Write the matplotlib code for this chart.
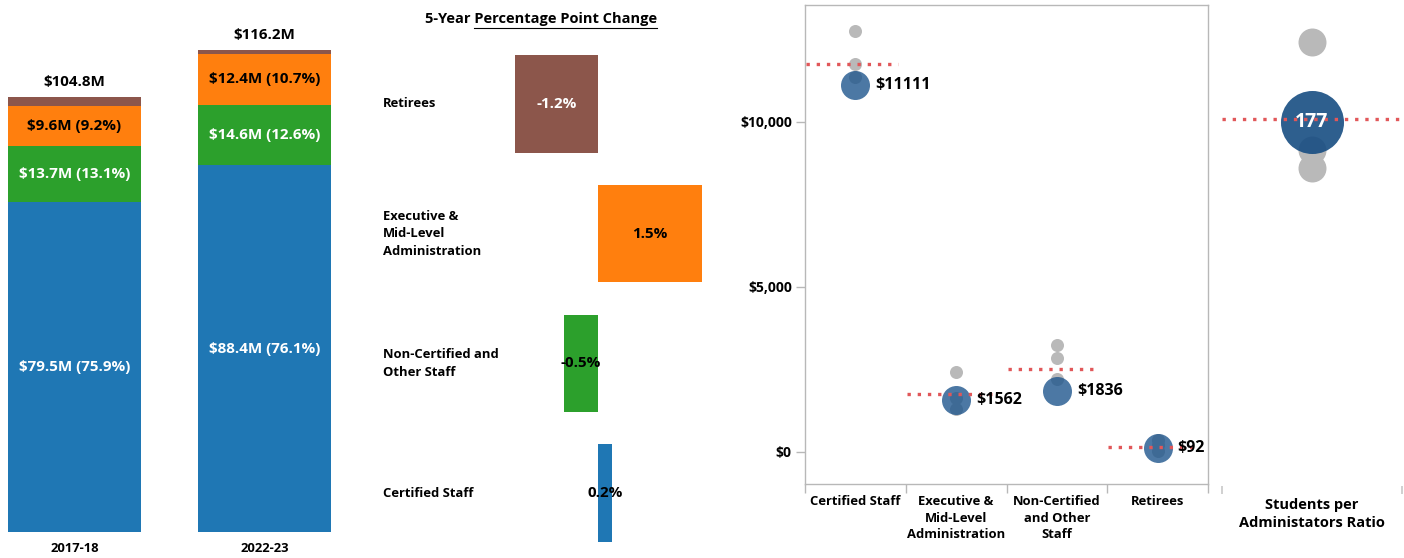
import matplotlib
matplotlib.use('Agg')
import matplotlib.pyplot as plt

plt.rcParams['font.family'] = ['Open Sans', 'DejaVu Sans']
plt.rcParams['font.weight'] = 'bold'

W, H, DPI = 1404, 558, 100

# ---------------- data ----------------
years = ['2017-18', '2022-23']
certified_m = [79.5, 88.4]
noncert_m = [13.7, 14.6]
exec_m = [9.6, 12.4]
retirees_m = [2.0, 0.8]
certified_pct = [75.9, 76.1]
noncert_pct = [13.1, 12.6]
exec_pct = [9.2, 10.7]
totals_m = [104.8, 116.2]

change_labels = ['Retirees', 'Executive &\nMid-Level\nAdministration',
                 'Non-Certified and\nOther Staff', 'Certified Staff']
change_pp = [-1.2, 1.5, -0.5, 0.2]

dot_categories = ['Certified Staff', 'Executive &\nMid-Level\nAdministration',
                  'Non-Certified\nand Other\nStaff', 'Retirees']
district_per_student = [11111, 1562, 1836, 92]
peer_per_student = [[12743, 11760, 11364],
                    [2402, 1622, 1287],
                    [3238, 2820, 2201],
                    [340, 190, 20]]
peer_reference = [11760, 1744, 2515, 146]

ratio_label = 'Students per\nAdministators Ratio'
district_ratio = 177
peer_ratios = [200, 169, 164]
peer_ratio_reference = 178

# ---------------- colours ----------------
C_BLUE = '#1f77b4'
C_GREEN = '#2ca02c'
C_ORANGE = '#ff7f0e'
C_BROWN = '#8c564b'
C_RED = '#e15759'
C_AXIS = '#b8b8b8'

FS_BAR = 10.9
FS_LAB = 9.4

fig = plt.figure(figsize=(W / DPI, H / DPI), dpi=DPI)


def px_axes(l, t, r, b):
    return fig.add_axes([l / W, 1 - b / H, (r - l) / W, (b - t) / H])


# ---------------- panel 1: stacked bars ----------------
ax1 = px_axes(0, 20, 345, 532)
xs = [0, 1]
bw = 0.7
bottom = [0, 0]
segments = [(certified_m, certified_pct, C_BLUE, 'white'),
            (noncert_m, noncert_pct, C_GREEN, 'white'),
            (exec_m, exec_pct, C_ORANGE, 'black'),
            (retirees_m, None, C_BROWN, None)]
for vals, pcts, col, tcol in segments:
    ax1.bar(xs, vals, bw, bottom=bottom, color=col, linewidth=0)
    if pcts is not None:
        for i in range(2):
            ax1.text(xs[i], bottom[i] + vals[i] / 2, f'${vals[i]:.1f}M ({pcts[i]:.1f}%)',
                     ha='center', va='center', color=tcol, fontsize=FS_BAR, fontweight='bold')
    bottom = [bottom[i] + vals[i] for i in range(2)]
for i in range(2):
    ax1.annotate(f'${totals_m[i]:.1f}M', (xs[i], totals_m[i]), xytext=(0, 15),
                 textcoords='offset pixels', ha='center', va='center',
                 fontsize=FS_BAR, fontweight='bold')
ax1.set_xlim(-74.5 / 190, (345 - 74.5) / 190)
ax1.set_ylim(0, (532 - 20) / 4.146)
ax1.set_xticks(xs)
ax1.set_xticklabels(years, fontsize=FS_LAB, fontweight='bold')
ax1.tick_params(axis='x', length=0, pad=7)
ax1.set_yticks([])
for s in ax1.spines.values():
    s.set_visible(False)
ax1.patch.set_alpha(0)

# ---------------- panel 2: percentage point change ----------------
ax2 = px_axes(370, 40, 720, 548)
ys = list(range(len(change_pp)))
ccols = [C_BROWN, C_ORANGE, C_GREEN, C_BLUE]
tcols = ['white', 'black', 'black', 'black']
ax2.barh(ys, change_pp, height=0.75, color=ccols, linewidth=0)
for y, v, tc in zip(ys, change_pp, tcols):
    ax2.text(v / 2, y, f'{v:.1f}%', ha='center', va='center', color=tc,
             fontsize=FS_BAR, fontweight='bold')
ytr = ax2.get_yaxis_transform()
for y, lab in zip(ys, change_labels):
    ax2.text((383 - 370) / 350, y, lab, transform=ytr, ha='left', va='center',
             fontsize=FS_LAB, fontweight='bold', linespacing=1.45)
ax2.set_xlim((370 - 598) / 69, (720 - 598) / 69)
ax2.set_ylim((548 - 104) / 129.67, (40 - 104) / 129.67)
ax2.set_xticks([])
ax2.set_yticks([])
for s in ax2.spines.values():
    s.set_visible(False)
ax2.patch.set_alpha(0)

# title with partial underline
FS_TITLE = 10.5
title_x, title_y = 541 / W, 1 - 19 / H
t_full = fig.text(title_x, title_y, '5-Year Percentage Point Change', ha='center', va='center',
                  fontsize=FS_TITLE, fontweight='bold')
t_part = fig.text(0, 0, 'Percentage Point Change', fontsize=FS_TITLE, fontweight='bold')
fig.canvas.draw()
r = fig.canvas.get_renderer()
bb_full = t_full.get_window_extent(r)
bb_part = t_part.get_window_extent(r)
t_part.remove()
ul_y = 1 - 27.5 / H
fig.add_artist(plt.Line2D([(bb_full.x1 - bb_part.width) / W, bb_full.x1 / W], [ul_y, ul_y],
                          color='black', linewidth=0.8, transform=fig.transFigure))

# ---------------- panel 3: per-student dot plot ----------------
ax3 = px_axes(805, 5, 1208, 484)
cx = list(range(len(dot_categories)))
for i in cx:
    ax3.scatter([i] * len(peer_per_student[i]), peer_per_student[i], s=88,
                color='#b9b9b9', linewidths=0, zorder=2)
ax3.scatter(cx, district_per_student, s=436, color='#1f568d', alpha=0.8,
            linewidths=0, zorder=3)
for i in cx:
    ax3.plot([i - 0.49, i + 0.42], [peer_reference[i]] * 2, color=C_RED, linewidth=2.4,
             linestyle=(0, (1, 2.06)), dash_capstyle='butt', zorder=4)
    ax3.annotate(f'${district_per_student[i]}', (i, district_per_student[i]), xytext=(20, 0),
                 textcoords='offset pixels', ha='left', va='center', fontsize=11.5,
                 fontweight='bold', zorder=5)
ax3.set_xlim(-0.5, 3.5)
ax3.set_ylim(-(484 - 451.5) / 0.03298, (451.5 - 5) / 0.03298)
ax3.set_yticks([0, 5000, 10000])
ax3.set_yticklabels([f'${v:,}' for v in [0, 5000, 10000]], fontsize=10, fontweight='bold')
ax3.set_xticks([-0.5, 0.5, 1.5, 2.5, 3.5])
ax3.set_xticklabels([])
ax3.set_xticks(cx, minor=True)
ax3.set_xticklabels(dot_categories, minor=True, fontsize=FS_LAB, fontweight='bold', linespacing=1.35)
ax3.tick_params(axis='both', which='major', length=6.5, width=1, color=C_AXIS, pad=3)
ax3.tick_params(axis='x', which='minor', length=0, pad=8)
for s in ax3.spines.values():
    s.set_color(C_AXIS)
    s.set_linewidth(1.0)

# ---------------- panel 4: students per administrator ----------------
ax4 = px_axes(1222, 5, 1402, 486)
ax4.scatter([0] * len(peer_ratios), peer_ratios, s=406, color='#b9b9b9', linewidths=0, zorder=2)
ax4.scatter([0], [district_ratio], s=2059, color='#174d82', alpha=0.9, linewidths=0, zorder=3)
ax4.plot([-0.5, 0.51], [peer_ratio_reference] * 2, color=C_RED, linewidth=2.4,
         linestyle=(0, (1, 2.06)), dash_capstyle='butt', zorder=4, clip_on=False)
ax4.text(0, district_ratio, f'{district_ratio}', ha='center', va='center', color='white',
         fontsize=14, fontweight='bold', zorder=5)
ax4.set_xlim(-0.5, 0.5)
ax4.set_ylim(177 - (486 - 122.3) / 3.5, 177 + (122.3 - 5) / 3.5)
ax4.set_xticks([-0.5, 0.5])
ax4.set_xticklabels([])
ax4.set_xticks([0], minor=True)
ax4.set_xticklabels([ratio_label], minor=True, fontsize=10.5, fontweight='bold', linespacing=1.3)
ax4.tick_params(axis='x', which='major', length=6, width=1.2, color='#c8c8c8')
ax4.tick_params(axis='x', which='minor', length=0, pad=9)
ax4.set_yticks([])
for s in ax4.spines.values():
    s.set_visible(False)
ax4.patch.set_alpha(0)

fig.savefig('out.png', dpi=DPI)
